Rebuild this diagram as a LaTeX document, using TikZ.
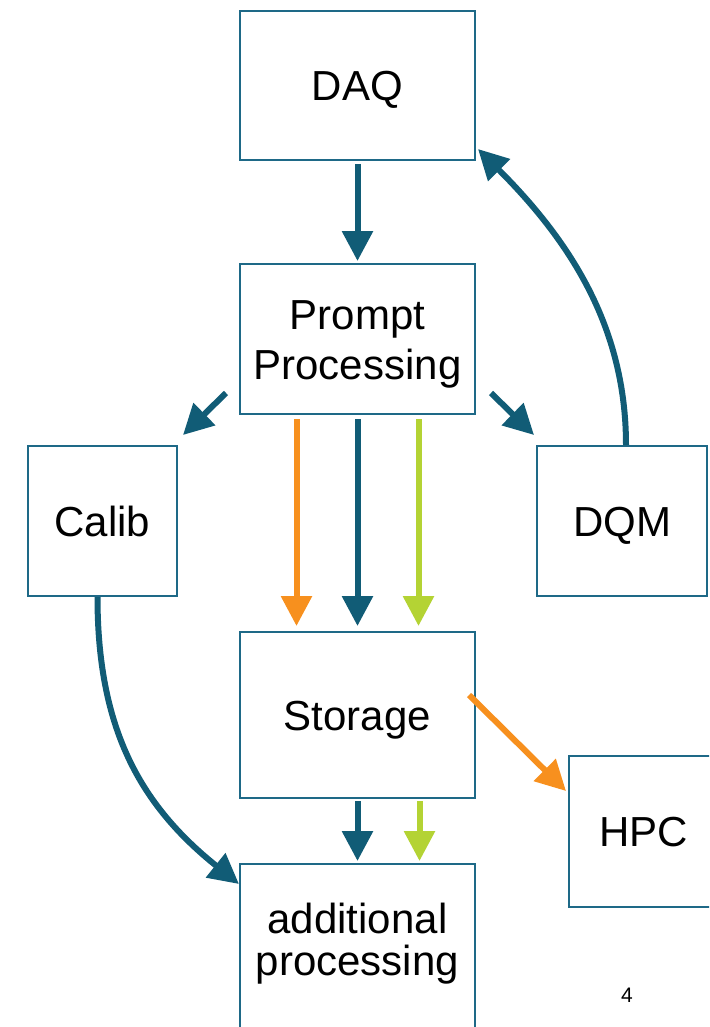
\documentclass[tikz,border=0pt]{standalone}
\usepackage{fontspec}
\setmainfont{Liberation Sans}
\usetikzlibrary{arrows.meta}
\definecolor{flowblue}{RGB}{17,92,118}
\definecolor{boxline}{RGB}{30,105,135}
\definecolor{floworange}{RGB}{247,144,30}
\definecolor{flowgreen}{RGB}{180,211,52}

\begin{document}
\begin{tikzpicture}[x=1pt,y=-1pt,
		stage/.style={draw=boxline,line width=2pt,inner sep=0pt,align=center,text height=30pt,text depth=0pt,font=\fontsize{42}{50}\selectfont},
		flow/.style={line width=6pt,-{Triangle[width=30pt,length=30pt]}}]
		\useasboundingbox (0,0) rectangle (709,1027);
		\clip (0,0) rectangle (709,1027);
		% boxes
		\node[stage,minimum width=235pt,minimum height=149pt] (daq) at (357.5,85.5) {DAQ};
		\node[stage,minimum width=235pt,minimum height=150pt,text height=80pt] (pp) at (357.5,339) {Prompt\\Processing};
		\node[stage,minimum width=149pt,minimum height=150pt] (calib) at (102.5,521) {Calib};
		\node[stage,minimum width=170pt,minimum height=150pt] (dqm) at (622,521) {DQM};
		\node[stage,minimum width=235pt,minimum height=166pt] (st) at (357.5,715) {Storage};
		\node[stage,minimum width=149pt,minimum height=151pt] (hpc) at (643.5,831.5) {HPC};
		\node[stage,minimum width=235pt,minimum height=166pt,font=\fontsize{42}{42}\selectfont,text height=73pt,text depth=17pt] (add) at (357.5,947) {additional\\processing};
		\node[font=\fontsize{21}{24}\selectfont] (page) at (627,995) {4};
		% arrows
		\draw[flow,flowblue,shorten <=3pt,shorten >=2pt] (daq.south) -- (pp.north);
		\draw[flow,flowblue] ([shift={(-13,-22)}]pp.south west) -- ([shift={(5,-10)}]calib.north east);
		\draw[flow,flowblue] ([shift={(15,-22)}]pp.south east) -- ([shift={(-2,-10)}]dqm.north west);
		\draw[flow,floworange,shorten <=4pt,shorten >=5pt] ([xshift=-61pt]pp.south) -- ([xshift=-61pt]st.north);
		\draw[flow,flowblue,shorten <=4pt,shorten >=5pt] (pp.south) -- (st.north);
		\draw[flow,flowgreen,shorten <=4pt,shorten >=5pt] ([xshift=61pt]pp.south) -- ([xshift=61pt]st.north);
		\draw[flow,flowblue] ([xshift=4pt]dqm.north) .. controls +(0,-120) and +(90,90) .. ([shift={(2,-12)}]daq.south east);
		\draw[flow,flowblue] ([xshift=-5pt]calib.south) .. controls +(0,130) and +(-100,-80) .. ([shift={(0,21)}]add.north west);
		\draw[flow,floworange] ([shift={(-7,-20)}]st.east) -- ([shift={(-2,36)}]hpc.north west);
		\draw[flow,flowblue,shorten <=2pt,shorten >=2pt] (st.south) -- (add.north);
		\draw[flow,flowgreen,shorten <=2pt,shorten >=2pt] ([xshift=62pt]st.south) -- ([xshift=62pt]add.north);
	\end{tikzpicture}
\end{document}
